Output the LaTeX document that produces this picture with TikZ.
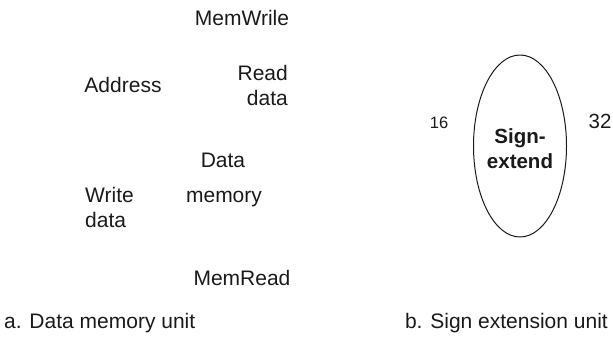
\documentclass[tikz,border=0pt]{standalone}
\usepackage{fontspec}
\setmainfont{Liberation Sans}
\usepackage{tikz}
\usetikzlibrary{positioning,shapes.geometric}
\definecolor{inkgray}{HTML}{1A1A1A}

\begin{document}
\begin{tikzpicture}[x=1pt,y=-1pt,
  lbl/.style={inner sep=0pt, text=inkgray, font=\fontsize{21}{25}\selectfont},
  unitoval/.style={draw=inkgray, line width=1pt, ellipse, minimum width=93pt, minimum height=182pt, inner sep=0pt}]
\useasboundingbox (0,0) rectangle (613,341);

% a. data memory unit
\node[lbl, anchor=base] (memwrite) at (242,25) {MemWrile};
\node[lbl, anchor=base] (address) at (123,92) {Address};
\node[lbl, anchor=north east, align=right] (readdata) at (288,65) {Read\\data};
\node[lbl, anchor=base] (datalbl) at (223,167) {Data};
\node[lbl, anchor=base] (memlbl) at (224,202) {memory};
\node[lbl, anchor=base west] (writelbl) at (85,202) {Write};
\node[lbl, anchor=base west] (writedata) at (85,227) {data};
\node[lbl, anchor=base] (memread) at (242,285) {MemRead};
\node[lbl, anchor=base west] (capa) at (4,328) {a. Data memory unit};

% b. sign extension unit
\node[unitoval] (signext) at (520,146) {};
\node[lbl, font=\bfseries\fontsize{20.5}{25}\selectfont, align=center] (signtxt) at ([yshift=-3pt]signext.center) {Sign-\\extend};
\node[lbl, font=\fontsize{16.5}{18}\selectfont, anchor=base] (insixteen) at (439,128) {16};
\node[lbl, font=\fontsize{20.5}{22}\selectfont, anchor=base] (outthirtytwo) at (600,128) {32};
\node[lbl, anchor=base east] (capb) at (608,328) {b. Sign extension unit};
\end{tikzpicture}
\end{document}
